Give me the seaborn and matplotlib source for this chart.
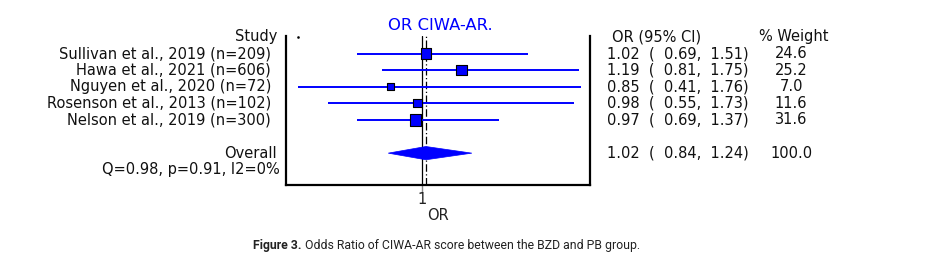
import matplotlib
matplotlib.use("Agg")
import matplotlib.pyplot as plt
import seaborn as sns
import pandas as pd
from matplotlib import transforms
from matplotlib.patches import Polygon

# ---------------- data ----------------
studies = ["Sullivan et al., 2019 (n=209)", "Hawa et al., 2021 (n=606)",
           "Nguyen et al., 2020 (n=72)", "Rosenson et al., 2013 (n=102)",
           "Nelson et al., 2019 (n=300)"]
odds = [1.02, 1.19, 0.85, 0.98, 0.97]
lower = [0.69, 0.81, 0.41, 0.55, 0.69]
upper = [1.51, 1.75, 1.76, 1.73, 1.37]
weights = [24.6, 25.2, 7.0, 11.6, 31.6]
overall_or = 1.02
overall_lo = 0.84
overall_hi = 1.24
overall_w = 100.0
het_text = "Q=0.98, p=0.91, I2=0%"
title_text = "OR CIWA-AR."
header_study = "Study"
header_ci = "OR (95% CI)"
header_w = "% Weight"
overall_label = "Overall"
xlabel_text = "OR"
xticks = [1]
caption_bold = "Figure 3."
caption_rest = " Odds Ratio of CIWA-AR score between the BZD and PB group."

# ---------------- style ----------------
sns.set_theme(style="white")
plt.rcParams['font.family'] = ['DejaVu Sans']
BLUE = "#0000ff"
FS = 10.5

W, H = 938, 268
fig = plt.figure(figsize=(W / 100, H / 100), dpi=100)
ax = fig.add_axes([286 / W, 1 - 185 / H, (590 - 286) / W, (185 - 36) / H])

study_rows = [1 + i for i in range(len(studies))]
overall_row = len(studies) + 2
het_row = overall_row + 1

df = pd.DataFrame({"study": studies, "OR": odds, "lo": lower, "hi": upper,
                   "w": weights, "row": study_rows})

# CI lines
ax.hlines(df["row"], df["lo"], df["hi"], color=BLUE, lw=1.4, zorder=2)
# reference lines
ax.axvline(1, color="black", lw=0.9, zorder=1)
ax.axvline(overall_or, color="black", lw=0.9, ls=(0, (6, 2, 1, 2)), zorder=1)
# squares
sns.scatterplot(data=df, x="OR", y="row", size="w", sizes=(26, 66),
                size_norm=(min(weights), max(weights)), marker="s",
                color=BLUE, edgecolor="black", linewidth=0.8, legend=False,
                ax=ax, zorder=3)
# diamond
dh = 0.4
ax.add_patch(Polygon([(overall_lo, overall_row), (overall_or, overall_row - dh),
                      (overall_hi, overall_row), (overall_or, overall_row + dh)],
                     closed=True, facecolor=BLUE, edgecolor=BLUE, lw=0.5, zorder=3))
# small mark at top-left corner as in the original
ax.plot([0.41], [0.0], marker="s", ms=0.8, color="black", lw=0)

ax.set_xlim(0.351, 1.805)
ax.set_ylim(8.92, -0.06)
ax.set_yticks([])
ax.set_xticks(xticks)
ax.set_xticklabels([str(t) for t in xticks])
ax.tick_params(axis="x", direction="out", length=5, width=1, color="#888888",
               labelsize=FS, labelcolor="#222222", pad=0, bottom=True)
ax.set_xlabel(xlabel_text, fontsize=FS, color="#222222", labelpad=1)
ax.set_ylabel("")
ax.spines["top"].set_visible(False)
for s in ["left", "right", "bottom"]:
    ax.spines[s].set_color("black")
    ax.spines[s].set_linewidth(1.6)
ax.grid(False)

# ---------------- texts ----------------
tr = transforms.blended_transform_factory(fig.transFigure, ax.transData)
TC = "#111111"


def fx(px):
    return px / W


ax.text(fx(277), 0, header_study, transform=tr, ha="right", va="center", fontsize=FS, color=TC)
for r, s in zip(study_rows, studies):
    ax.text(fx(271), r, s, transform=tr, ha="right", va="center", fontsize=FS, color=TC)
ax.text(fx(277), overall_row, overall_label, transform=tr, ha="right", va="center", fontsize=FS, color=TC)
ax.text(fx(280), het_row, het_text, transform=tr, ha="right", va="center", fontsize=FS, color=TC)

ax.text(fx(612), 0, header_ci, transform=tr, ha="left", va="center", fontsize=FS, color=TC)
ax.text(fx(759), 0, header_w, transform=tr, ha="left", va="center", fontsize=FS, color=TC)
for r, o, l, h, w in zip(study_rows, odds, lower, upper, weights):
    ax.text(fx(607), r, f"{o:.2f}  (  {l:.2f},  {h:.2f})", transform=tr,
            ha="left", va="center", fontsize=FS, color=TC)
    ax.text(fx(791), r, f"{w:.1f}", transform=tr, ha="center", va="center", fontsize=FS, color=TC)
ax.text(fx(607), overall_row, f"{overall_or:.2f}  (  {overall_lo:.2f},  {overall_hi:.2f})",
        transform=tr, ha="left", va="center", fontsize=FS, color=TC)
ax.text(fx(791), overall_row, f"{overall_w:.1f}", transform=tr, ha="center", va="center",
        fontsize=FS, color=TC)

fig.text(440 / W, 1 - 25 / H, title_text, ha="center", va="center", fontsize=11.8, color=BLUE)

# caption
renderer = fig.canvas.get_renderer()
cb = fig.text(253 / W, 1 - 246 / H, caption_bold, ha="left", va="center", fontsize=8.8,
              fontweight="bold", family="Roboto", color="#222222")
bb = cb.get_window_extent(renderer=renderer)
fig.text(bb.x1 / W, 1 - 246 / H, caption_rest, ha="left", va="center", fontsize=8.8,
         family="Roboto", color="#222222")

fig.savefig("out.png", dpi=100)
